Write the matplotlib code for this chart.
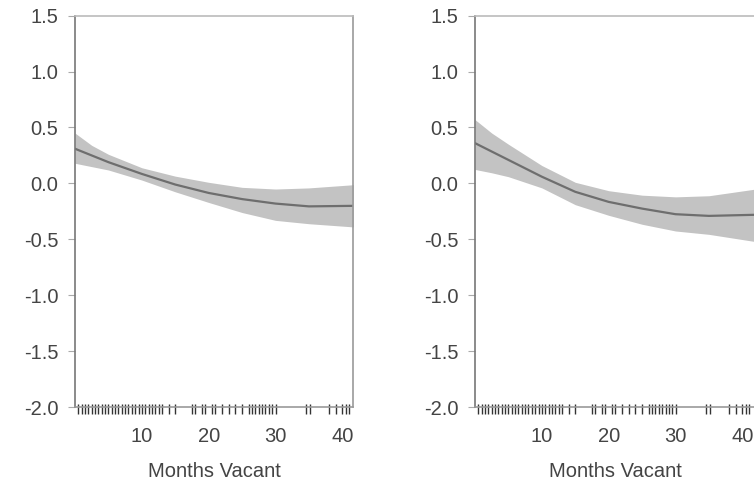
import numpy as np
import matplotlib.pyplot as plt

plt.rcParams['font.family'] = ['Liberation Sans', 'DejaVu Sans']

months = [0, 2.5, 5, 10, 15, 20, 25, 30, 35, 42]

# left panel: fitted smooth and its band
fit_left = [0.31, 0.25, 0.19, 0.085, -0.01, -0.085, -0.14, -0.18, -0.205, -0.20]
lo_left = [0.18, 0.15, 0.12, 0.03, -0.075, -0.17, -0.26, -0.33, -0.36, -0.39]
hi_left = [0.45, 0.34, 0.26, 0.14, 0.065, 0.01, -0.035, -0.05, -0.04, -0.01]

# right panel
fit_right = [0.36, 0.285, 0.21, 0.06, -0.075, -0.165, -0.225, -0.275, -0.29, -0.28]
lo_right = [0.125, 0.095, 0.06, -0.04, -0.19, -0.285, -0.365, -0.425, -0.455, -0.52]
hi_right = [0.57, 0.45, 0.35, 0.16, 0.01, -0.065, -0.105, -0.12, -0.11, -0.05]

# observed months (rug)
rug = [0.5, 1, 1.5, 2, 2.5, 3, 3.5, 4, 4.5, 5, 5.5, 6, 6.5, 7, 7.5, 8, 8.5,
       9, 9.5, 10, 10.5, 11, 11.5, 12, 12.5, 13, 14, 15,
       17.5, 18, 19, 19.5, 20.5, 21, 22, 23, 24, 25, 26, 26.5, 27, 27.5,
       28, 28.5, 29, 29.5, 30, 34.5, 35.2, 38, 39, 40, 40.5, 41]

yticks = [-2.0, -1.5, -1.0, -0.5, 0.0, 0.5, 1.0, 1.5]
xticks = [10, 20, 30, 40]

fig = plt.figure(figsize=(7.54, 4.86), dpi=100)

def panel(rect, xmax, fit, lo, hi):
    ax = fig.add_axes(rect)
    ax.fill_between(months, lo, hi, color='#c3c3c3', lw=0)
    ax.plot(months, fit, color='#6e6e6e', lw=1.6)
    ax.vlines(rug, -0.018, 0.008, transform=ax.get_xaxis_transform(),
              color='#333333', lw=1.0, clip_on=False)
    ax.set_xlim(0, xmax)
    ax.set_ylim(-2.0, 1.5)
    ax.set_yticks(yticks)
    ax.set_yticklabels(['%.1f' % v for v in yticks])
    ax.set_xticks(xticks)
    ax.tick_params(axis='x', length=0, pad=14, labelsize=14.5, colors='#444444')
    ax.tick_params(axis='y', length=5, width=0.8, pad=7, labelsize=14.5,
                   color='#aaaaaa', labelcolor='#444444')
    ax.spines['left'].set_color('#777777')
    ax.spines['right'].set_color('#999999')
    ax.spines['top'].set_color('#bbbbbb')
    ax.spines['bottom'].set_color('#999999')
    for s in ax.spines.values():
        s.set_linewidth(1.2)
    ax.set_xlabel('Months Vacant', fontsize=14.5, color='#444444', labelpad=12)
    return ax

panel([0.0995, 0.162, 0.3687, 0.806], 41.6, fit_left, lo_left, hi_left)
panel([0.630, 0.162, 0.3723, 0.806], 42.0, fit_right, lo_right, hi_right)

fig.savefig('out.png', dpi=100)
